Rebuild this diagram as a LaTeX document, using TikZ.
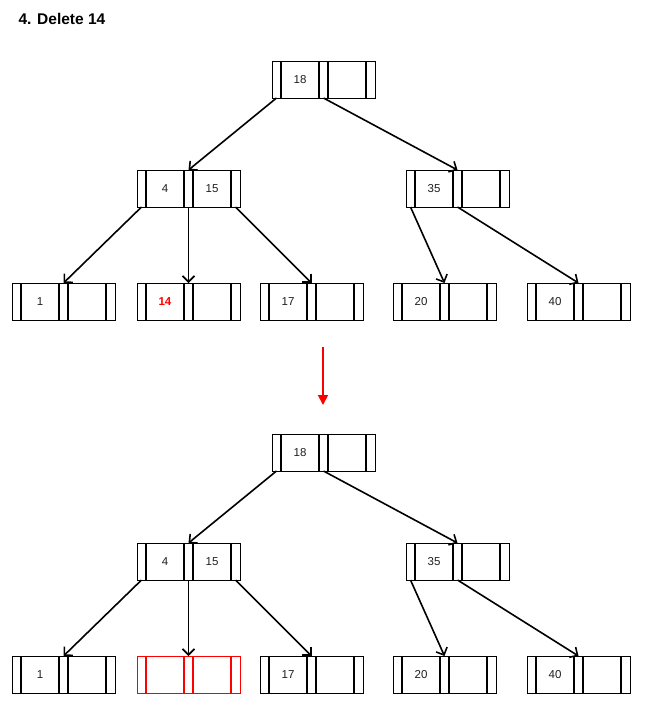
\documentclass[tikz,border=0pt]{standalone}
\usepackage{fontspec}
\setmainfont{Liberation Sans}
\usetikzlibrary{arrows.meta}
\definecolor{txt}{RGB}{30,30,30}
\tikzset{
  cell/.style={draw=#1, line width=1pt, inner sep=0pt, outer sep=0pt, minimum height=37pt, anchor=north west, font=\fontsize{11.5}{13}\selectfont, text=txt},
  cell/.default=black,
  pcell/.style={cell=#1, minimum width=9pt},
  pcell/.default=black,
  kcell/.style={cell=#1, minimum width=38pt},
  kcell/.default=black,
  divider/.style={draw=#1, line width=1.7pt},
  divider/.default=black,
  link/.style={line width=1.6pt, -{Straight Barb[length=6pt,width=12pt,line width=1.6pt]}},
}
% #1 name, #2 x, #3 y, #4 key1, #5 key2, #6 colour
\newcommand\btnode[6]{%
  \node[pcell=#6] (#1p0) at (#2,#3) {};
  \node[kcell=#6] (#1k1) at (#2+9,#3) {#4};
  \node[pcell=#6] (#1p1) at (#2+47,#3) {};
  \node[kcell=#6] (#1k2) at (#2+56,#3) {#5};
  \node[pcell=#6] (#1p2) at (#2+94,#3) {};
  \draw[divider=#6] (#1k1.north west) -- (#1k1.south west)
                    (#1k1.north east) -- (#1k1.south east)
                    (#1k2.north west) -- (#1k2.south west)
                    (#1k2.north east) -- (#1k2.south east);
}
\begin{document}
\begin{tikzpicture}[x=1pt,y=-1pt]
\useasboundingbox (0,0) rectangle (646,710);
\node[anchor=west, font=\bfseries\fontsize{15.5}{18}\selectfont] (title) at (15,19) {4. Delete 14};

% upper tree
\btnode{r}{272}{61}{18}{}{black}
\btnode{a}{137}{170}{4}{15}{black}
\btnode{b}{406}{170}{35}{}{black}
\btnode{c}{12}{283}{1}{}{black}
\btnode{d}{137}{283}{\textcolor{red}{\bfseries 14}}{}{black}
\btnode{e}{260}{283}{17}{}{black}
\btnode{f}{393}{283}{20}{}{black}
\btnode{g}{527}{283}{40}{}{black}
\draw[link] (rp0.south) -- (ap1.north);
\draw[link] (rp1.south) -- (bp1.north);
\draw[link] (ap0.south) -- (cp1.north);
\draw[link] (ap1.south) -- (dp1.north);
\draw[link] (ap2.south) -- (ep1.north);
\draw[link] (bp0.south) -- (fp1.north);
\draw[link] (bp1.south) -- (gp1.north);

% transition arrow
\coordinate (s) at (323,347);
\coordinate (t) at (323,405);
\draw[red, line width=1.6pt, -{Triangle[length=10pt,width=10pt]}] (s) -- (t);

% lower tree
\btnode{R}{272}{434}{18}{}{black}
\btnode{A}{137}{543}{4}{15}{black}
\btnode{B}{406}{543}{35}{}{black}
\btnode{C}{12}{656}{1}{}{black}
\btnode{D}{137}{656}{}{}{red}
\btnode{E}{260}{656}{17}{}{black}
\btnode{F}{393}{656}{20}{}{black}
\btnode{G}{527}{656}{40}{}{black}
\draw[link] (Rp0.south) -- (Ap1.north);
\draw[link] (Rp1.south) -- (Bp1.north);
\draw[link] (Ap0.south) -- (Cp1.north);
\draw[link] (Ap1.south) -- (Dp1.north);
\draw[link] (Ap2.south) -- (Ep1.north);
\draw[link] (Bp0.south) -- (Fp1.north);
\draw[link] (Bp1.south) -- (Gp1.north);
\end{tikzpicture}
\end{document}
